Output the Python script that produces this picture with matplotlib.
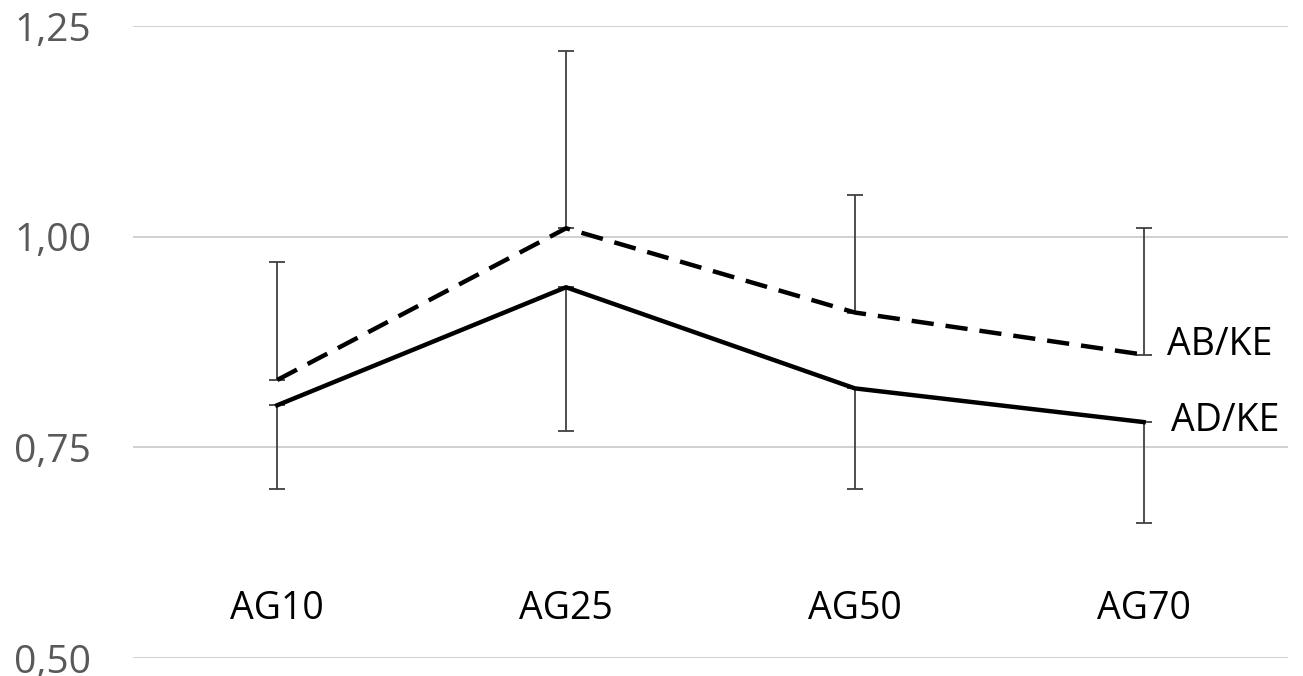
import matplotlib.pyplot as plt
import numpy as np

groups = ['AG10', 'AG25', 'AG50', 'AG70']
ab_ke = [0.83, 1.01, 0.91, 0.86]
ad_ke = [0.80, 0.94, 0.82, 0.78]
ab_err_up = [0.14, 0.21, 0.14, 0.15]
ad_err_down = [0.10, 0.17, 0.12, 0.12]
yticks = [0.50, 0.75, 1.00, 1.25]
ytick_labels = ['0,50', '0,75', '1,00', '1,25']

plt.rcParams['font.family'] = ['Open Sans', 'DejaVu Sans']

fig = plt.figure(figsize=(13.03, 6.76), dpi=100)
ax = fig.add_axes([0.102, 0.0266, 0.8865, 0.9349])

x = np.arange(len(groups))

# error bars: AB/KE up, AD/KE down
ax.errorbar(x, ab_ke, yerr=[np.zeros(4), ab_err_up], fmt='none',
            ecolor='#404040', elinewidth=1.3, capsize=6, capthick=1.3, zorder=2)
ax.errorbar(x, ad_ke, yerr=[ad_err_down, np.zeros(4)], fmt='none',
            ecolor='#404040', elinewidth=1.3, capsize=6, capthick=1.3, zorder=2)

ax.plot(x, ab_ke, color='black', lw=3.2, dashes=(5, 2.7), zorder=3)
ax.plot(x, ad_ke, color='black', lw=3.2, zorder=3)

ax.text(x[-1] + 0.08, ab_ke[-1] + 0.012, 'AB/KE', fontsize=27, va='center', ha='left')
ax.text(x[-1] + 0.095, ad_ke[-1] + 0.001, 'AD/KE', fontsize=27, va='center', ha='left')

ax.set_xlim(-0.5, 3.5)
ax.set_ylim(0.5, 1.25)
ax.set_yticks(yticks)
ax.set_yticklabels(ytick_labels, fontsize=28, color='#595959')
ax.yaxis.grid(True, color='#c8c8c8', lw=1.2)
ax.set_axisbelow(True)
ax.tick_params(axis='y', length=0, pad=30)

ax.spines['bottom'].set_position(('data', 0.6))
for s in ax.spines.values():
    s.set_visible(False)
ax.set_xticks(x)
ax.set_xticklabels(groups, fontsize=27)
ax.tick_params(axis='x', length=0, pad=12)

fig.savefig('out.png', dpi=100)
